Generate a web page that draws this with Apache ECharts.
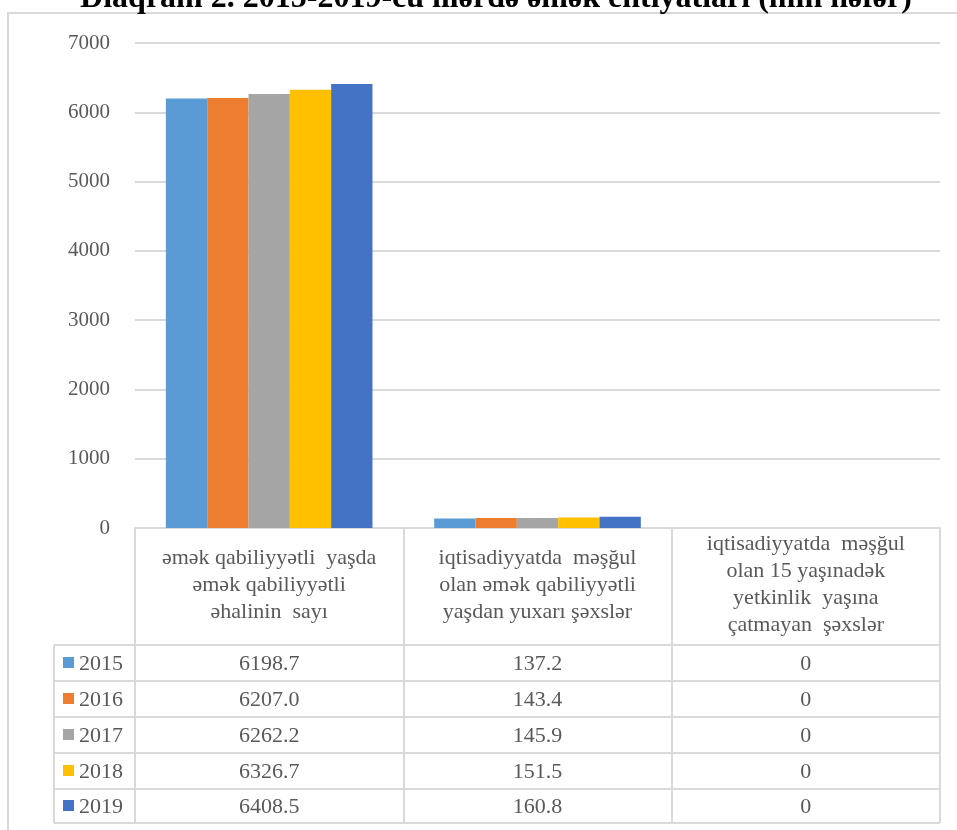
<!DOCTYPE html>
<html><head><meta charset="utf-8">
<script src="https://cdn.jsdelivr.net/npm/echarts@6/dist/echarts.min.js"></script>
<style>html,body{margin:0;padding:0;background:#fff}#c{width:957px;height:830px}</style>
</head><body><div id="c"></div>
<script>
const titleText = 'Diaqram 2. 2015-2019-cu illərdə əmək ehtiyatları (min nəfər)';
const categories = [
  'əmək qabiliyyətli  yaşda\nəmək qabiliyyətli\nəhalinin  sayı',
  'iqtisadiyyatda  məşğul\nolan əmək qabiliyyətli\nyaşdan yuxarı şəxslər',
  'iqtisadiyyatda  məşğul\nolan 15 yaşınadək\nyetkinlik  yaşına\nçatmayan  şəxslər'
];
const years = ['2015', '2016', '2017', '2018', '2019'];
const v2015 = [6198.7, 137.2, 0];
const v2016 = [6207.0, 143.4, 0];
const v2017 = [6262.2, 145.9, 0];
const v2018 = [6326.7, 151.5, 0];
const v2019 = [6408.5, 160.8, 0];
const yearValues = [v2015, v2016, v2017, v2018, v2019];
const colors = ['#5B9BD5', '#ED7D31', '#A5A5A5', '#FFC000', '#4472C4'];

const FONT = 'Liberation Serif';
const TXT = '#595959';
const LINE = '#d9d9d9';

const chart = echarts.init(document.getElementById('c'), null, {renderer: 'canvas'});
const gridTop = 43, gridBottomY = 528, gridLeft = 135, gridRight = 940;
const rowTops = [645, 681, 717, 753, 789, 823];

chart.setOption({
  animation: false,
  color: colors,
  grid: {left: gridLeft, right: 957 - gridRight, top: gridTop, bottom: 830 - gridBottomY, containLabel: false},
  xAxis: {
    type: 'category', data: categories,
    axisLine: {show: true, lineStyle: {color: LINE, width: 2}},
    axisTick: {show: true, length: rowTops[5] - gridBottomY, lineStyle: {color: LINE, width: 2}},
    axisLabel: {interval: 0, margin: 57, fontFamily: FONT, fontSize: 22, color: TXT, lineHeight: 27, align: 'center', verticalAlign: 'middle'}
  },
  yAxis: {
    type: 'value', min: 0, max: 7000, interval: 1000,
    axisLine: {show: false}, axisTick: {show: false},
    splitLine: {lineStyle: {color: LINE, width: 2}},
    axisLabel: {margin: 25, fontFamily: FONT, fontSize: 21, color: TXT, formatter: v => String(v)}
  },
  series: years.map((y, i) => ({
    name: y, type: 'bar', data: yearValues[i],
    barGap: '0%', barCategoryGap: '23%',
    itemStyle: {color: colors[i]}
  }))
});

const graphics = [];
graphics.push({type: 'rect', z: 0, shape: {x: 8, y: 13, width: 960, height: 830}, style: {fill: null, stroke: LINE, lineWidth: 2}, silent: true});
graphics.push({type: 'text', z: 10, x: 496, y: 15, style: {text: titleText, fontFamily: FONT, fontWeight: 'bold', fontSize: 32, fill: '#000', textAlign: 'center', textVerticalAlign: 'bottom'}, silent: true});
const legendLeft = 54;
rowTops.forEach(y => {
  graphics.push({type: 'line', shape: {x1: legendLeft, y1: y, x2: gridRight, y2: y}, style: {stroke: LINE, lineWidth: 2}, silent: true});
});
graphics.push({type: 'line', shape: {x1: legendLeft, y1: rowTops[0], x2: legendLeft, y2: rowTops[5]}, style: {stroke: LINE, lineWidth: 2}, silent: true});

years.forEach((y, i) => {
  const cy = (rowTops[i] + rowTops[i + 1]) / 2;
  graphics.push({type: 'rect', shape: {x: 63, y: cy - 6, width: 11, height: 11}, style: {fill: colors[i]}, silent: true});
  graphics.push({type: 'text', x: 79, y: cy + 1, style: {text: y, fontFamily: FONT, fontSize: 22, fill: TXT, textAlign: 'left', textVerticalAlign: 'middle'}, silent: true});
  categories.forEach((c, j) => {
    const cx = chart.convertToPixel({xAxisIndex: 0}, j);
    const v = yearValues[i][j];
    graphics.push({type: 'text', x: cx, y: cy + 1, style: {text: v === 0 ? '0' : v.toFixed(1), fontFamily: FONT, fontSize: 22, fill: TXT, textAlign: 'center', textVerticalAlign: 'middle'}, silent: true});
  });
});
chart.setOption({graphic: graphics});
</script>
</body></html>
